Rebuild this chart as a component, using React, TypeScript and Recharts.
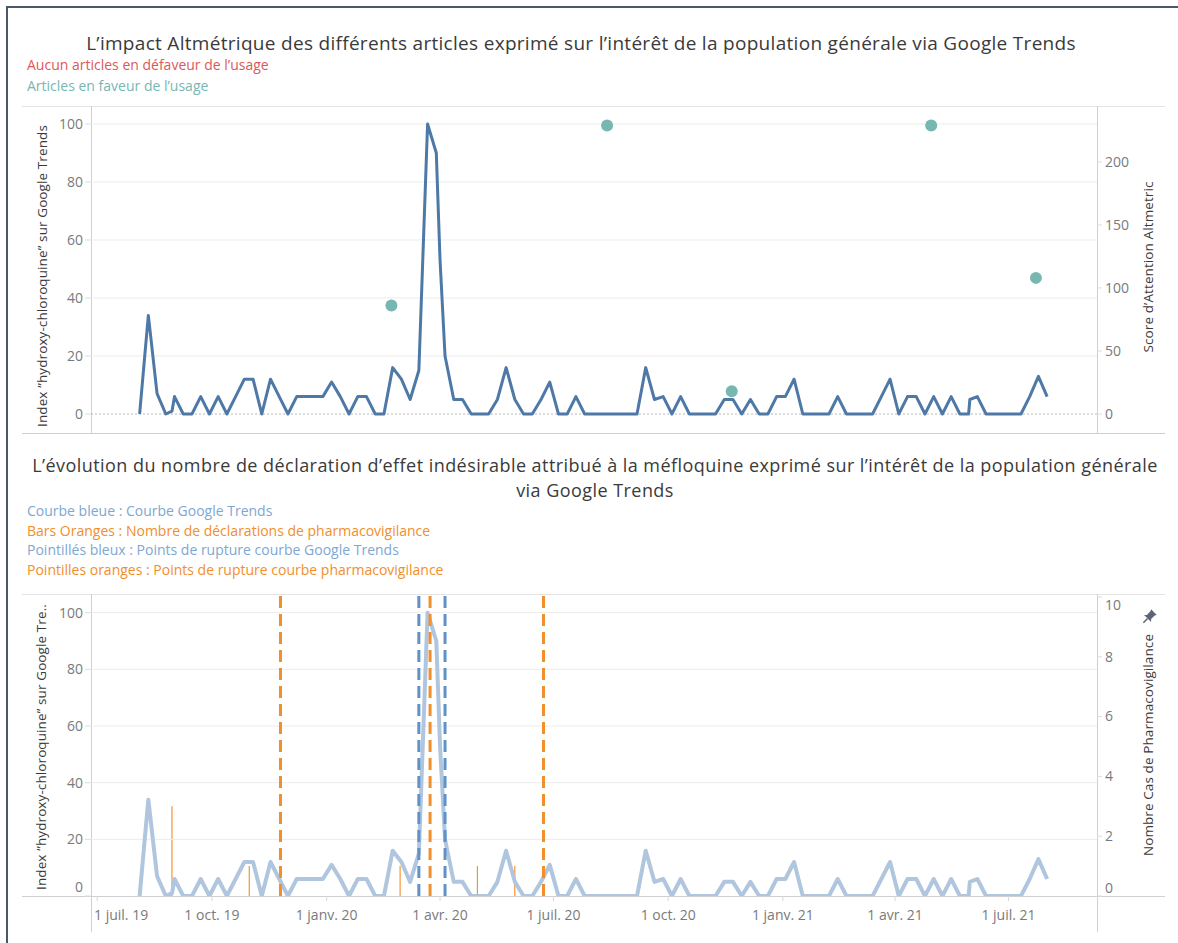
import React from 'react';
import { ComposedChart, Line, Scatter, Bar, XAxis, YAxis, ReferenceLine } from 'recharts';

// Google Trends weekly index ("hydroxy-chloroquine"), weeks starting on WEEK_START
const WEEK_START = '2019-08-04';
const gtWeekly = [
  0, 34, 7, 0, 6, 0, 0, 6, 0, 6, 0, 6, 12, 12, 0, 12, 6, 0, 6, 6,
  6, 6, 11, 6, 0, 6, 6, 0, 0, 16, 12, 5, 15, 100, 90, 20, 5, 5, 0, 0,
  0, 5, 16, 5, 0, 0, 5, 11, 0, 0, 6, 0, 0, 0, 0, 0, 0, 0, 16, 5,
  6, 0, 6, 0, 0, 0, 0, 5, 5, 0, 5, 0, 0, 6, 6, 12, 0, 0, 0, 0,
  6, 0, 0, 0, 0, 6, 12, 0, 6, 6, 0, 6, 0, 6, 0, 0, 6, 0, 0, 0,
  0, 0, 6, 13, 6,
];
// off-week rows that also show up on the curve
const gtExtraDates = ['2019-08-30', '2020-04-01', '2021-05-31'];
const gtExtraValues = [1, 53, 5];

// Altmetric attention score of the articles (all in favour)
const articleDates = ['2020-02-22', '2020-08-13', '2020-11-21', '2021-04-30', '2021-07-23'];
const articleScores = [86, 229, 18, 229, 108];

// pharmacovigilance declarations
const caseDates = ['2019-08-30', '2019-10-31', '2020-02-29', '2020-05-01', '2020-05-31'];
const caseCounts = [3, 1, 1, 1, 1];

// break points
const gtBreaks = ['2020-03-15', '2020-04-05'];
const pvBreaks = ['2019-11-25', '2020-03-24', '2020-06-23'];

const dateTicks = [
  '2019-07-01', '2019-10-01', '2020-01-01', '2020-04-01', '2020-07-01',
  '2020-10-01', '2021-01-01', '2021-04-01', '2021-07-01',
];
const MONTHS_FR = ['janv.', 'févr.', 'mars', 'avr.', 'mai', 'juin', 'juil.', 'août', 'sept.', 'oct.', 'nov.', 'déc.'];
const indexTicks = [0, 20, 40, 60, 80, 100];
const gridValues = [20, 40, 60, 80, 100];
const altTicks = [0, 50, 100, 150, 200];
const caseTicks = [0, 2, 4, 6, 8, 10];

const DAY = 86400000;
const ts = (d: string) => Date.parse(d + 'T00:00:00Z');
const X_DOMAIN = [ts('2019-06-26'), ts('2021-09-10')];

const gtRows = [
  ...gtWeekly.map((v, i) => ({ t: ts(WEEK_START) + i * 7 * DAY, gt: v })),
  ...gtExtraDates.map((d, i) => ({ t: ts(d), gt: gtExtraValues[i] })),
].sort((a, b) => a.t - b.t);

const articleRows = articleDates.map((d, i) => ({ t: ts(d), score: articleScores[i] }));

const bottomRows = (() => {
  const m = new Map<number, any>();
  gtRows.forEach((r) => m.set(r.t, { ...r }));
  caseDates.forEach((d, i) => {
    const t = ts(d);
    m.set(t, { ...(m.get(t) || { t }), cases: caseCounts[i] });
  });
  return Array.from(m.values()).sort((a, b) => a.t - b.t);
})();

const FONT = "'Open Sans', Lato, sans-serif";
const GRAY = '#7a7a7a';
const DARK = '#3a3a3a';

const yTick = (anchor: 'start' | 'end', shift: Record<number, number>) => (p: any) => (
  <text
    x={p.x}
    y={p.y + (shift[p.payload.value] || 0)}
    dy="0.35em"
    textAnchor={anchor}
    fill={GRAY}
    fontSize={14}
    fontFamily={FONT}
  >
    {p.payload.value}
  </text>
);

const DateTick = (p: any) => {
  const d = new Date(p.payload.value);
  const label = `1 ${MONTHS_FR[d.getUTCMonth()]} ${String(d.getUTCFullYear()).slice(2)}`;
  const first = p.index === 0;
  return (
    <text x={first ? 94 : p.x} y={p.y + 17} textAnchor={first ? 'start' : 'middle'} fill={GRAY} fontSize={14} fontFamily={FONT}>
      {label}
    </text>
  );
};

const hLine = (top: number, left: number, width: number, color: string, h = 1) => (
  <div style={{ position: 'absolute', top, left, width, height: h, background: color }} />
);
const vLine = (left: number, top: number, height: number, color: string, w = 1) => (
  <div style={{ position: 'absolute', top, left, width: w, height, background: color }} />
);

const App = () => {
  return (
    <div style={{ position: 'absolute', left: 0, top: 0, width: 1178, height: 943, background: '#fff', fontFamily: FONT, overflow: 'hidden' }}>
      {/* frame */}
      {hLine(6, 6, 1172, '#4b5669', 2)}
      {vLine(6, 6, 937, '#4b5669', 2)}

      {/* titles and notes */}
      <div style={{ position: 'absolute', top: 30, left: 0, width: 1162, textAlign: 'center', fontSize: 19, letterSpacing: 0.3, lineHeight: '27px', color: DARK }}>
        L’impact Altmétrique des différents articles exprimé sur l’intérêt de la population générale via Google Trends
      </div>
      <div style={{ position: 'absolute', top: 55, left: 27, fontSize: 14, lineHeight: '20px', color: '#e15759' }}>
        Aucun articles en défaveur de l’usage
      </div>
      <div style={{ position: 'absolute', top: 76, left: 27, fontSize: 14, lineHeight: '20px', color: '#76b7b2' }}>
        Articles en faveur de l’usage
      </div>

      <div style={{ position: 'absolute', top: 453, left: 0, width: 1190, textAlign: 'center', fontSize: 18, letterSpacing: 0.45, lineHeight: '25px', color: DARK }}>
        L’évolution du nombre de déclaration d’effet indésirable attribué à la méfloquine exprimé sur l’intérêt de la population générale
        <br />
        via Google Trends
      </div>
      <div style={{ position: 'absolute', top: 501, left: 27, fontSize: 14, lineHeight: '19.6px' }}>
        <div style={{ color: '#7ea7d2' }}>Courbe bleue : Courbe Google Trends</div>
        <div style={{ color: '#f28e2b' }}>Bars Oranges : Nombre de déclarations de pharmacovigilance</div>
        <div style={{ color: '#7ea7d2' }}>Pointillés bleux : Points de rupture courbe Google Trends</div>
        <div style={{ color: '#f28e2b' }}>Pointilles oranges : Points de rupture courbe pharmacovigilance</div>
      </div>

      {/* pane borders */}
      {hLine(106, 22, 1143, '#e4e4e4')}
      {hLine(433, 22, 1143, '#d0d0d0')}
      {vLine(91, 106, 328, '#d0d0d0')}
      {vLine(1097, 106, 328, '#d0d0d0')}
      {hLine(594, 22, 1143, '#e4e4e4')}
      {hLine(896, 22, 1143, '#d0d0d0')}
      {vLine(91, 594, 338, '#d0d0d0')}
      {vLine(1097, 594, 338, '#d0d0d0')}

      {/* top chart */}
      <div style={{ position: 'absolute', top: 100, left: 0 }}>
        <ComposedChart width={1178} height={343} data={gtRows} margin={{ top: 6, right: 0, bottom: 10, left: 0 }}>
          <XAxis dataKey="t" type="number" domain={X_DOMAIN} allowDataOverflow hide />
          <YAxis
            yAxisId="left"
            type="number"
            domain={[-6.55, 106.2]}
            ticks={indexTicks}
            allowDataOverflow
            width={91}
            axisLine={false}
            tickSize={6}
            tickMargin={2}
            tickLine={{ stroke: '#ddd' }}
            tick={yTick('end', {})}
          />
          <YAxis
            yAxisId="right"
            orientation="right"
            type="number"
            domain={[-15.1, 244.4]}
            ticks={altTicks}
            allowDataOverflow
            width={81}
            axisLine={false}
            tickSize={5}
            tickMargin={3}
            tickLine={{ stroke: '#ddd' }}
            tick={yTick('start', {})}
          />
          {gridValues.map((v) => (
            <ReferenceLine key={v} yAxisId="left" y={v} stroke="#ececec" strokeWidth={1} />
          ))}
          <ReferenceLine yAxisId="left" y={0} stroke="#b8b8b8" strokeWidth={1} strokeDasharray="2 2" />
          <Line
            yAxisId="left"
            dataKey="gt"
            type="linear"
            stroke="#4e79a7"
            strokeWidth={3}
            strokeLinejoin="round"
            dot={false}
            activeDot={false}
            isAnimationActive={false}
          />
          <Scatter
            yAxisId="right"
            data={articleRows}
            dataKey="score"
            fill="#76b7b2"
            shape={(p: any) => <circle cx={p.cx} cy={p.cy} r={6} fill="#76b7b2" />}
            isAnimationActive={false}
          />
        </ComposedChart>
      </div>

      {/* bottom chart */}
      <div style={{ position: 'absolute', top: 588, left: 0 }}>
        <ComposedChart width={1178} height={344} data={bottomRows} margin={{ top: 6, right: 0, bottom: 0, left: 0 }}>
          <XAxis
            dataKey="t"
            type="number"
            domain={X_DOMAIN}
            allowDataOverflow
            ticks={dateTicks.map(ts)}
            height={36}
            axisLine={false}
            tickSize={5}
            tickMargin={2}
            tickLine={{ stroke: '#d8d8d8' }}
            tick={DateTick}
          />
          <YAxis
            yAxisId="left"
            type="number"
            domain={[0, 106.6]}
            ticks={indexTicks}
            allowDataOverflow
            width={91}
            axisLine={false}
            tickSize={6}
            tickMargin={2}
            tickLine={{ stroke: '#ddd' }}
            tick={yTick('end', { 0: -9 })}
          />
          <YAxis
            yAxisId="right"
            orientation="right"
            type="number"
            domain={[0, 10.1]}
            ticks={caseTicks}
            allowDataOverflow
            width={81}
            axisLine={false}
            tickSize={5}
            tickMargin={3}
            tickLine={{ stroke: '#ddd' }}
            tick={yTick('start', { 0: -8, 10: 8 })}
          />
          {gridValues.map((v) => (
            <ReferenceLine key={v} yAxisId="left" y={v} stroke="#ececec" strokeWidth={1} />
          ))}
          <Bar yAxisId="right" dataKey="cases" fill="#f28e2b" barSize={2} isAnimationActive={false} />
          <Line
            yAxisId="left"
            dataKey="gt"
            type="linear"
            stroke="#b0c6de"
            strokeWidth={4}
            strokeLinejoin="round"
            connectNulls
            dot={false}
            activeDot={false}
            isAnimationActive={false}
          />
          {gtBreaks.map((d) => (
            <ReferenceLine key={d} yAxisId="left" x={ts(d)} stroke="#5f93c8" strokeWidth={3} strokeDasharray="12 6" />
          ))}
          {pvBreaks.map((d) => (
            <ReferenceLine key={d} yAxisId="left" x={ts(d)} stroke="#f28e2b" strokeWidth={3} strokeDasharray="12 6" />
          ))}
        </ComposedChart>
      </div>

      {/* axis titles */}
      <svg width={1178} height={943} style={{ position: 'absolute', left: 0, top: 0, pointerEvents: 'none' }}>
        <g fontFamily={FONT} fontSize={13.5} letterSpacing={0.1} fill={DARK}>
          <text transform="translate(42 276) rotate(-90)" textAnchor="middle" dominantBaseline="central">
            Index ”hydroxy-chloroquine” sur Google Trends
          </text>
          <text transform="translate(1148 267) rotate(-90)" textAnchor="middle" dominantBaseline="central">
            Score d’Attention Altmetric
          </text>
          <text transform="translate(41 747) rotate(-90)" textAnchor="middle" dominantBaseline="central">
            Index ”hydroxy-chloroquine” sur Google Tre..
          </text>
          <text transform="translate(1148 745) rotate(-90)" textAnchor="middle" dominantBaseline="central">
            Nombre Cas de Pharmacovigilance
          </text>
        </g>
        <g transform="translate(1149 617) rotate(45)" fill="#5d6675">
          <path d="M-4 -7 L4 -7 L3 -5 L3 0 L5 2 L-5 2 L-3 0 L-3 -5 Z" />
          <line x1={0} y1={2} x2={0} y2={8} stroke="#5d6675" strokeWidth={1.5} />
        </g>
      </svg>
    </div>
  );
};

export default App;
